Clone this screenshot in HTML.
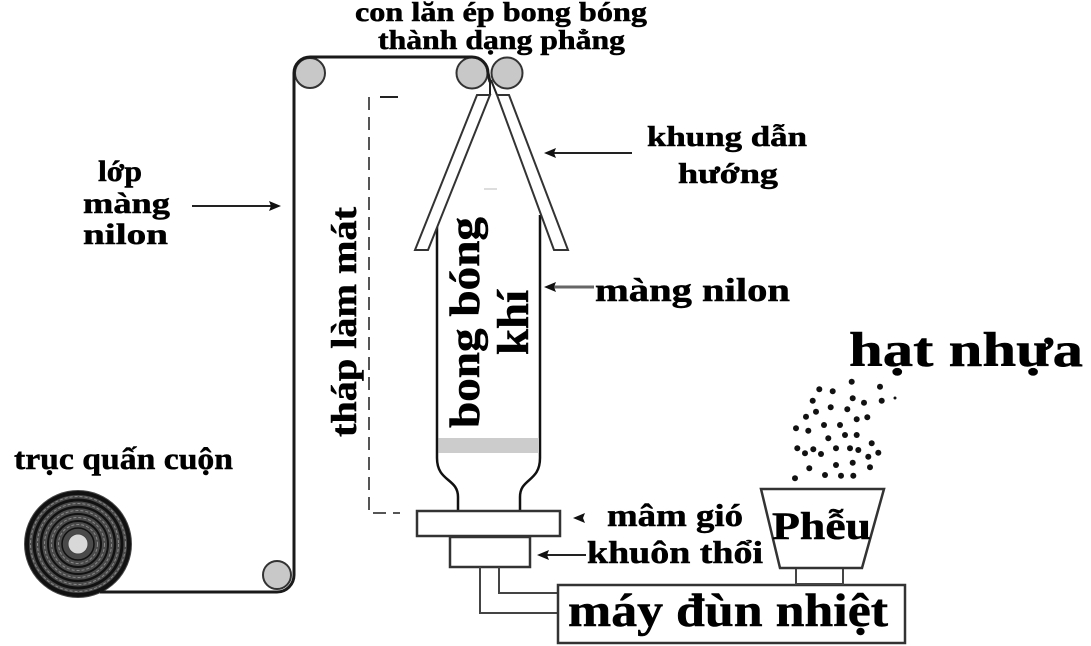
<!DOCTYPE html>
<html>
<head>
<meta charset="utf-8">
<style>
html,body{margin:0;padding:0;background:#fff;}
svg{display:block;}
text{font-family:"Liberation Serif","DejaVu Serif",serif;font-weight:bold;fill:#000;stroke:#000;stroke-width:0.5;}
</style>
</head>
<body>
<svg width="1091" height="646" viewBox="0 0 1091 646" xmlns="http://www.w3.org/2000/svg">
<rect width="1091" height="646" fill="#fff"/>

<!-- coil -->
<circle cx="78" cy="544" r="54" fill="#4a4a4a"/>
<g fill="none" stroke="#111">
<circle cx="78" cy="544" r="51" stroke-width="4"/>
<circle cx="78" cy="544" r="44" stroke-width="3"/>
<circle cx="78" cy="544" r="37" stroke-width="2.5"/>
<circle cx="78" cy="544" r="30" stroke-width="2"/>
<circle cx="78" cy="544" r="23" stroke-width="2"/>
<circle cx="78" cy="544" r="16" stroke-width="1.5"/>
</g>
<g fill="none" stroke="#8a8a8a" stroke-width="1" stroke-dasharray="3,2">
<circle cx="78" cy="544" r="47.5"/>
<circle cx="78" cy="544" r="40.5"/>
<circle cx="78" cy="544" r="33.5"/>
<circle cx="78" cy="544" r="26.5"/>
<circle cx="78" cy="544" r="19.5"/>
</g>
<circle cx="78" cy="544" r="10" fill="#d8d8d8" stroke="#444" stroke-width="1"/>

<!-- rollers -->
<g fill="#c8c8c8" stroke="#333" stroke-width="2">
<circle cx="310" cy="73" r="15"/>
<circle cx="472" cy="73" r="15.5"/>
<circle cx="507" cy="73" r="15.5"/>
<circle cx="277" cy="575" r="14"/>
</g>

<!-- film path -->
<path d="M100 592 L277 592 A17 17 0 0 0 294 575 L294 73 A16 16 0 0 1 310 57 L472 57 A16 16 0 0 1 488 73 L490 82" fill="none" stroke="#1a1a1a" stroke-width="3"/>

<!-- cooling tower dashed line -->
<path d="M369 97 L369 513 L400 513" fill="none" stroke="#555" stroke-width="2" stroke-dasharray="13,7"/>
<line x1="380" y1="97" x2="398" y2="97" stroke="#222" stroke-width="2"/>

<!-- bubble -->
<path d="M437 217 L437 458 C437 482 458 478 458 497 L458 512" fill="none" stroke="#111" stroke-width="2.5"/>
<path d="M540 215 L540 458 C540 482 520 478 520 497 L520 512" fill="none" stroke="#111" stroke-width="2.5"/>
<rect x="438.5" y="438" width="100.5" height="15" fill="#cccccc"/>
<line x1="484" y1="189" x2="497" y2="189" stroke="#ddd" stroke-width="2"/>

<!-- guide frame bars -->
<line x1="490" y1="95" x2="490" y2="80" stroke="#222" stroke-width="2"/>
<line x1="497" y1="95" x2="491" y2="80" stroke="#222" stroke-width="2"/>
<polygon points="477,95 490,95 428,250 415,250" fill="#fff" stroke="#333" stroke-width="2"/>
<polygon points="497,95 509,95 568,250 554,250" fill="#fff" stroke="#333" stroke-width="2"/>

<!-- die plate & die -->
<rect x="417" y="511" width="143" height="25" fill="#fff" stroke="#333" stroke-width="2.5"/>
<rect x="450" y="537" width="80" height="30" fill="#fff" stroke="#333" stroke-width="2.5"/>
<polyline points="480,567 480,613 558,613" fill="none" stroke="#444" stroke-width="2"/>
<polyline points="499,567 499,593 558,593" fill="none" stroke="#444" stroke-width="2"/>

<!-- extruder -->
<rect x="558" y="585" width="347" height="58" fill="#fff" stroke="#333" stroke-width="2.5"/>

<!-- hopper -->
<rect x="796" y="568" width="47" height="16" fill="#fff" stroke="#444" stroke-width="2"/>
<polygon points="761,489 884,489 862,568 780,568" fill="#fff" stroke="#333" stroke-width="2.5"/>

<!-- resin pellets -->
<g fill="#111">
<circle cx="851.7" cy="381.7" r="3"/><circle cx="880" cy="386.7" r="3"/>
<circle cx="819.3" cy="389.3" r="3"/><circle cx="832.7" cy="391.3" r="3"/>
<circle cx="895" cy="398" r="1.5"/><circle cx="812.7" cy="400.7" r="3"/>
<circle cx="852.7" cy="398.3" r="3"/><circle cx="864" cy="402.7" r="3"/>
<circle cx="881.7" cy="400.7" r="3"/><circle cx="830.7" cy="407.3" r="3"/>
<circle cx="847.3" cy="409.3" r="3"/><circle cx="816" cy="411.7" r="3"/>
<circle cx="806" cy="416.7" r="3"/><circle cx="856.7" cy="419.3" r="3"/>
<circle cx="867.3" cy="417.3" r="3"/><circle cx="796" cy="428.3" r="3"/>
<circle cx="808.3" cy="430.7" r="3"/><circle cx="824" cy="425" r="3"/>
<circle cx="840" cy="425" r="3"/><circle cx="845" cy="435" r="3"/>
<circle cx="856.7" cy="435" r="3"/><circle cx="828.3" cy="438.3" r="3"/>
<circle cx="871.7" cy="443.3" r="3"/><circle cx="797.3" cy="448.3" r="3"/>
<circle cx="805" cy="453.3" r="3"/><circle cx="813.3" cy="449.3" r="3"/>
<circle cx="821" cy="454" r="3"/><circle cx="836" cy="448.3" r="3"/>
<circle cx="850" cy="448.3" r="3"/><circle cx="858.3" cy="450" r="3"/>
<circle cx="878.3" cy="452.7" r="3"/><circle cx="868.3" cy="456.7" r="3"/>
<circle cx="809.3" cy="468.3" r="3"/><circle cx="836" cy="465" r="3"/>
<circle cx="852.7" cy="462.7" r="3"/><circle cx="870" cy="467.3" r="3"/>
<circle cx="795" cy="478.3" r="3"/><circle cx="825" cy="475" r="3"/>
<circle cx="841" cy="475.7" r="3"/><circle cx="853.3" cy="475.7" r="3"/>
</g>

<!-- arrows -->
<g stroke="#222" stroke-width="2" fill="none">
<line x1="192" y1="206" x2="272" y2="206"/>
<line x1="632" y1="153" x2="552" y2="153"/>
<line x1="594" y1="287" x2="552" y2="287" stroke="#666" stroke-width="3"/>
<line x1="586" y1="555" x2="545" y2="555"/>
</g>
<g fill="#111">
<polygon points="281,206 269,201 271,206 269,211"/>
<polygon points="544,153 556,148 554,153 556,158"/>
<polygon points="544,287 556,282 554,287 556,292"/>
<polygon points="573,518 585,513 583,518 585,523"/>
<polygon points="537,555 549,550 547,555 549,560"/>
</g>

<!-- labels -->
<text x="355" y="21" font-size="27" textLength="292" lengthAdjust="spacingAndGlyphs">con lăn ép bong bóng</text>
<text x="378" y="49" font-size="27" textLength="247" lengthAdjust="spacingAndGlyphs">thành dạng phẳng</text>

<text x="647" y="146" font-size="28" textLength="160" lengthAdjust="spacingAndGlyphs">khung dẫn</text>
<text x="678" y="183" font-size="28" textLength="100" lengthAdjust="spacingAndGlyphs">hướng</text>

<text x="595" y="301" font-size="33" textLength="195" lengthAdjust="spacingAndGlyphs">màng nilon</text>

<text x="98" y="181" font-size="30" textLength="44" lengthAdjust="spacingAndGlyphs">lớp</text>
<text x="83" y="213" font-size="30" textLength="87" lengthAdjust="spacingAndGlyphs">màng</text>
<text x="83" y="244" font-size="30" textLength="85" lengthAdjust="spacingAndGlyphs">nilon</text>

<text x="14" y="469" font-size="31" textLength="219" lengthAdjust="spacingAndGlyphs">trục quấn cuộn</text>

<text transform="translate(356,437) rotate(-90)" font-size="36" textLength="230" lengthAdjust="spacingAndGlyphs">tháp làm mát</text>
<text transform="translate(479,428) rotate(-90)" font-size="42" textLength="211" lengthAdjust="spacingAndGlyphs">bong bóng</text>
<text transform="translate(528,355) rotate(-90)" font-size="44" textLength="65" lengthAdjust="spacingAndGlyphs">khí</text>

<text x="849" y="366" font-size="49" textLength="234" lengthAdjust="spacingAndGlyphs">hạt nhựa</text>

<text x="772" y="539" font-size="39" textLength="99" lengthAdjust="spacingAndGlyphs">Phễu</text>

<text x="607" y="526" font-size="32" textLength="136" lengthAdjust="spacingAndGlyphs">mâm gió</text>
<text x="587" y="563" font-size="32" textLength="176" lengthAdjust="spacingAndGlyphs">khuôn thổi</text>

<text x="568" y="626" font-size="47" textLength="320" lengthAdjust="spacingAndGlyphs">máy đùn nhiệt</text>
</svg>
</body>
</html>
